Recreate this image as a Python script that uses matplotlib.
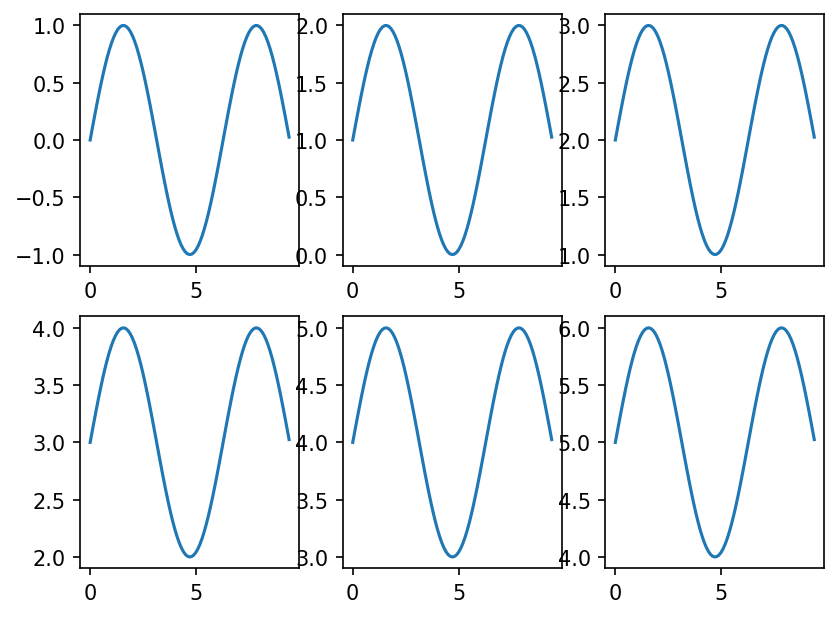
import numpy as np
import matplotlib
matplotlib.use("Agg")
import matplotlib.pyplot as plt

# data
x = np.arange(0, 3 * np.pi, 0.1)
offsets = [0, 1, 2, 3, 4, 5]

fig, axes = plt.subplots(2, 3)
for ax, off in zip(axes.flat, offsets):
    ax.plot(x, np.sin(x) + off)

fig.savefig("out.png", dpi=150, bbox_inches="tight")
